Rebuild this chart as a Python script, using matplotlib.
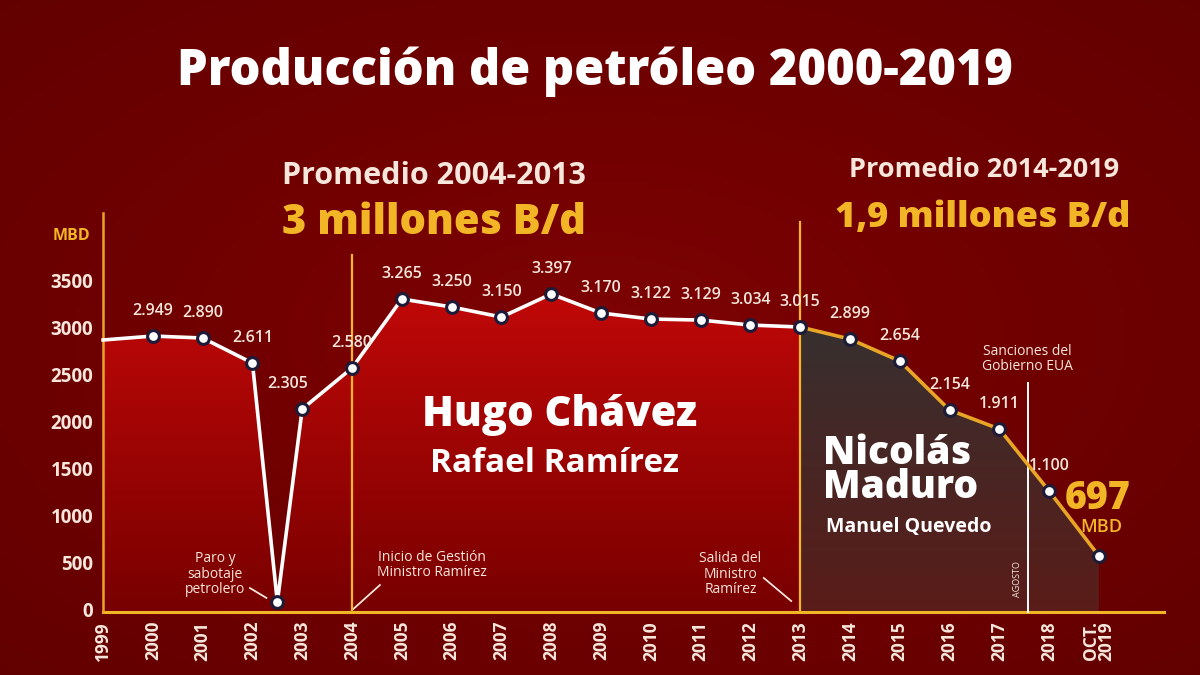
import numpy as np
import matplotlib.pyplot as plt
from matplotlib.colors import LinearSegmentedColormap
from matplotlib.patches import Polygon

plt.rcParams['font.family'] = ['Open Sans', 'DejaVu Sans']

# Datos (miles de barriles diarios)
anios_chavez = [1999, 2000, 2001, 2002, 2002.5, 2003, 2004, 2005, 2006, 2007,
                2008, 2009, 2010, 2011, 2012, 2013]
prod_chavez = [2894, 2936, 2915, 2649, 106, 2160, 2596, 3330, 3245, 3138,
               3383, 3181, 3117, 3106, 3053, 3032]
anios_maduro = [2013, 2014, 2015, 2016, 2017, 2018, 2019]
prod_maduro = [3032, 2904, 2670, 2149, 1947, 1287, 596]

# etiquetas de valores tal como aparecen
etq_anios = [2000, 2001, 2002, 2003, 2004, 2005, 2006, 2007, 2008, 2009,
             2010, 2011, 2012, 2013, 2014, 2015, 2016, 2017, 2018]
etq_texto = ['2.949', '2.890', '2.611', '2.305', '2.580', '3.265', '3.250',
             '3.150', '3.397', '3.170', '3.122', '3.129', '3.034', '3.015',
             '2.899', '2.654', '2.154', '1.911', '1.100']

ticks_y = [0, 500, 1000, 1500, 2000, 2500, 3000, 3500]
ticks_x = [1999, 2000, 2001, 2002, 2003, 2004, 2005, 2006, 2007, 2008, 2009,
           2010, 2011, 2012, 2013, 2014, 2015, 2016, 2017, 2018, 2019]
ticks_x_txt = [str(a) for a in ticks_x[:-1]] + ['OCT.\n2019']

AMARILLO = '#f2b526'
CREMA = '#f6e6dc'
NARANJA = '#e9a526'

fig = plt.figure(figsize=(12, 6.75), dpi=100)
ax = fig.add_axes([0, 0, 1, 1])
x0, x1 = 1996.93, 2021.03
y0, y1 = -670, 6511
ax.set_xlim(x0, x1)
ax.set_ylim(y0, y1)
ax.axis('off')

# fondo radial
gx, gy = np.meshgrid(np.linspace(-1, 1, 300), np.linspace(-1, 1, 200))
r = np.sqrt(gx ** 2 + gy ** 2)
fondo = LinearSegmentedColormap.from_list('f', ['#7e0304', '#700000', '#620000'])
ax.imshow(r, cmap=fondo, extent=[x0, x1, y0, y1], aspect='auto', zorder=0,
          vmin=0, vmax=1.45)

# relleno Chavez con degradado
verts = list(zip(anios_chavez, prod_chavez)) + [(2013, 0), (1999, 0)]
poly = Polygon(verts, closed=True, facecolor='none', edgecolor='none')
ax.add_patch(poly)
rojo = LinearSegmentedColormap.from_list('r', ['#780000', '#c20808'])
grad = np.linspace(0, 1, 256).reshape(-1, 1)
im = ax.imshow(grad, cmap=rojo, extent=[1999, 2013, 0, 3450], origin='lower',
               aspect='auto', zorder=1)
im.set_clip_path(poly)

# relleno Maduro
verts2 = list(zip(anios_maduro, prod_maduro)) + [(2019, 0), (2013, 0)]
poly2 = Polygon(verts2, closed=True, facecolor='none', edgecolor='none')
ax.add_patch(poly2)
gris = LinearSegmentedColormap.from_list('g', ['#5a1c18', '#363030'])
im2 = ax.imshow(grad, cmap=gris, extent=[2013, 2019, 0, 3100], origin='lower',
                aspect='auto', zorder=1)
im2.set_clip_path(poly2)

# ejes y lineas de referencia
ax.plot([1999, 2020.3], [0, 0], color=AMARILLO, lw=2.2, zorder=3)
ax.plot([1999, 1999], [0, 4240], color=NARANJA, lw=1.8, zorder=3)
ax.plot([2004, 2004], [0, 3800], color=AMARILLO, lw=1.6, zorder=3)
ax.plot([2013, 2013], [0, 4150], color=AMARILLO, lw=1.6, zorder=3)
ax.plot([2017.57, 2017.57], [0, 2436], color='white', lw=1.4, zorder=3)

# series
ax.plot(anios_chavez, prod_chavez, color='white', lw=2.6, zorder=4)
ax.plot(anios_maduro, prod_maduro, color=NARANJA, lw=2.6, zorder=4)
ax.plot(anios_chavez[1:], prod_chavez[1:], 'o', ms=8.5, mfc='white',
        mec='#1d1b38', mew=2.2, zorder=5)
ax.plot(anios_maduro[1:], prod_maduro[1:], 'o', ms=8.5, mfc='white',
        mec='#1d1b38', mew=2.2, zorder=5)

# etiquetas de valores
todos_x = anios_chavez + anios_maduro
todos_y = prod_chavez + prod_maduro
for a, t in zip(etq_anios, etq_texto):
    v = todos_y[todos_x.index(a)]
    dx = -0.3 if a == 2003 else 0
    ax.annotate(t, (a + dx, v), xytext=(0, 12), textcoords='offset points',
                ha='center', va='bottom', color=CREMA, fontsize=11.5,
                fontweight='semibold', zorder=6)

# ticks
for v in ticks_y:
    ax.text(1998.8, v, str(v), ha='right', va='center', color=CREMA,
            fontsize=13.5, fontweight='bold')
ax.text(1998.36, 4000, 'MBD', ha='center', va='center', color=AMARILLO,
        fontsize=11.5, fontweight='bold')
for a, t in zip(ticks_x, ticks_x_txt):
    ax.text(a, -95, t, ha='center', va='top', rotation=90, color=CREMA,
            fontsize=12.5, fontweight='bold', linespacing=0.8)

# titulos
fig.text(0.496, 0.893, 'Producción de petróleo 2000-2019', ha='center',
         va='center', color='white', fontsize=35, fontweight='extra bold')
fig.text(0.362, 0.739, 'Promedio 2004-2013', ha='center', va='center',
         color=CREMA, fontsize=22, fontweight='bold')
fig.text(0.362, 0.670, '3 millones B/d', ha='center', va='center',
         color=AMARILLO, fontsize=30, fontweight='extra bold')
fig.text(0.820, 0.748, 'Promedio 2014-2019', ha='center', va='center',
         color=CREMA, fontsize=19.5, fontweight='bold')
fig.text(0.819, 0.677, '1,9 millones B/d', ha='center', va='center',
         color=AMARILLO, fontsize=26, fontweight='extra bold')

fig.text(0.466, 0.385, 'Hugo Chávez', ha='center', va='center',
         color='white', fontsize=30, fontweight='extra bold')
fig.text(0.462, 0.314, 'Rafael Ramírez', ha='center', va='center',
         color='white', fontsize=24, fontweight='bold')
fig.text(0.686, 0.303, 'Nicolás\nMaduro', ha='left', va='center',
         color='white', fontsize=28, fontweight='extra bold', linespacing=0.85)
fig.text(0.688, 0.219, 'Manuel Quevedo', ha='left', va='center',
         color='white', fontsize=14, fontweight='bold')
fig.text(0.915, 0.262, '697', ha='center', va='center', color=AMARILLO,
         fontsize=27, fontweight='extra bold')
fig.text(0.918, 0.219, 'MBD', ha='center', va='center', color=AMARILLO,
         fontsize=13, fontweight='semibold')

# anotaciones
nota = dict(ha='center', va='center', color=CREMA, fontsize=10,
            linespacing=1.05)
ax.text(2001.25, 400, 'Paro y\nsabotaje\npetrolero', **nota)
ax.plot([2001.95, 2002.28], [255, 150], color=CREMA, lw=1.3)
ax.text(2005.6, 500, 'Inicio de Gestión\nMinistro Ramírez', **nota)
ax.plot([2004.0, 2004.56], [20, 287], color=CREMA, lw=1.3)
ax.text(2011.6, 404, 'Salida del\nMinistro\nRamírez', **nota)
ax.plot([2012.27, 2012.82], [362, 117], color=CREMA, lw=1.3)
ax.text(2017.57, 2691, 'Sanciones del\nGobierno EUA', **nota)
ax.text(2017.37, 350, 'AGOSTO', ha='center', va='center', rotation=90,
        color=CREMA, fontsize=6.5)

fig.savefig('out.png', dpi=100)
